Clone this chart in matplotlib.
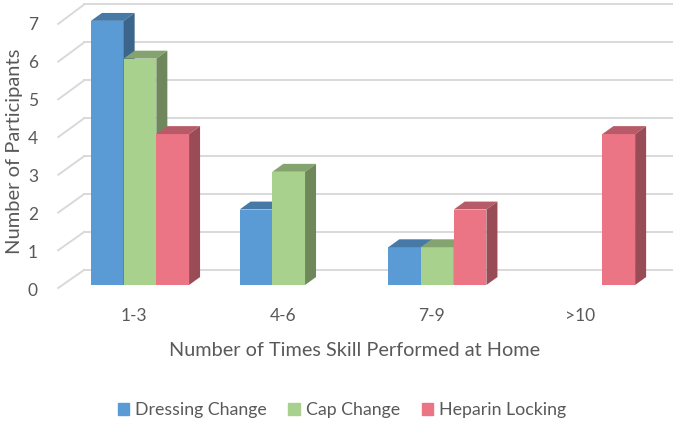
import matplotlib
matplotlib.use("Agg")
import matplotlib.pyplot as plt
from matplotlib.patches import Polygon, Patch
import numpy as np

categories = ["1-3", "4-6", "7-9", ">10"]
series = ["Dressing Change", "Cap Change", "Heparin Locking"]
dressing = [7, 2, 1, 0]
cap = [6, 3, 1, 0]
heparin = [4, 0, 2, 4]
yticks = [0, 1, 2, 3, 4, 5, 6, 7]

colors = ["#5B9BD5", "#A9D18E", "#EC7585"]
TXT = "#595959"
GRID = "#D9D9D9"
plt.rcParams["font.family"] = ["Lato", "DejaVu Sans"]


def shade(c, f):
    r, g, b = matplotlib.colors.to_rgb(c)
    return (r * f, g * f, b * f)


fig = plt.figure(figsize=(6.84, 4.21), dpi=100)
W, H = 684, 421
ax = fig.add_axes([60 / W, (H - 291) / H, (672 - 60) / W, (291 - 2) / H])
ax.set_xlim(-0.538, 3.578)
ax.set_ylim(-0.16, 7.5)
ax.axis("off")

# back wall gridlines with a short diagonal on the side wall
for v in yticks:
    vb = v * 1.005 + 0.40
    ax.plot([-0.55, -0.375], [v - 0.08, vb], color=GRID, lw=1.4, clip_on=False, zorder=0)
    ax.plot([-0.375, 3.578], [vb, vb], color=GRID, lw=1.4, clip_on=False, zorder=0)
    ax.text(-0.72, v * 1.008 - 0.16, str(v), ha="center", va="center",
            fontsize=12.5, color=TXT)

w, dx, dy = 0.22, 0.074, 0.21
x = np.arange(len(categories))
for k, vals in enumerate([dressing, cap, heparin]):
    c = colors[k]
    for i, v in enumerate(vals):
        if v == 0:
            continue
        x0 = x[i] + (k - 1.5) * w
        x1 = x0 + w
        ax.bar(x0, v, width=w, align="edge", color=c, zorder=2 + k)
        ax.add_patch(Polygon([(x0, v), (x1, v), (x1 + dx, v + dy), (x0 + dx, v + dy)],
                             closed=True, color=shade(c, 0.78), zorder=2 + k, lw=0))
        ax.add_patch(Polygon([(x1, 0), (x1 + dx, dy), (x1 + dx, v + dy), (x1, v)],
                             closed=True, color=shade(c, 0.65), zorder=2 + k, lw=0))

for i, cat in enumerate(categories):
    ax.text(x[i] - 0.04, -0.83, cat, ha="center", va="center", fontsize=12.5,
            color=TXT, clip_on=False)

fig.text(355 / W, 1 - 350 / H, "Number of Times Skill Performed at Home",
         ha="center", va="center", fontsize=14.3, color=TXT)
fig.text(15 / W, 1 - 151 / H, "Number of Participants", ha="center", va="center",
         rotation=90, fontsize=14.5, color=TXT)

handles = [Patch(color=c, label=s) for c, s in zip(colors, series)]
fig.legend(handles=handles, loc="center", bbox_to_anchor=(342 / W, 1 - 410 / H),
           ncol=3, frameon=False, fontsize=12.8, labelcolor=TXT,
           handlelength=0.65, handleheight=0.65, handletextpad=0.35, columnspacing=1.2)

fig.savefig("out.png", dpi=100)
